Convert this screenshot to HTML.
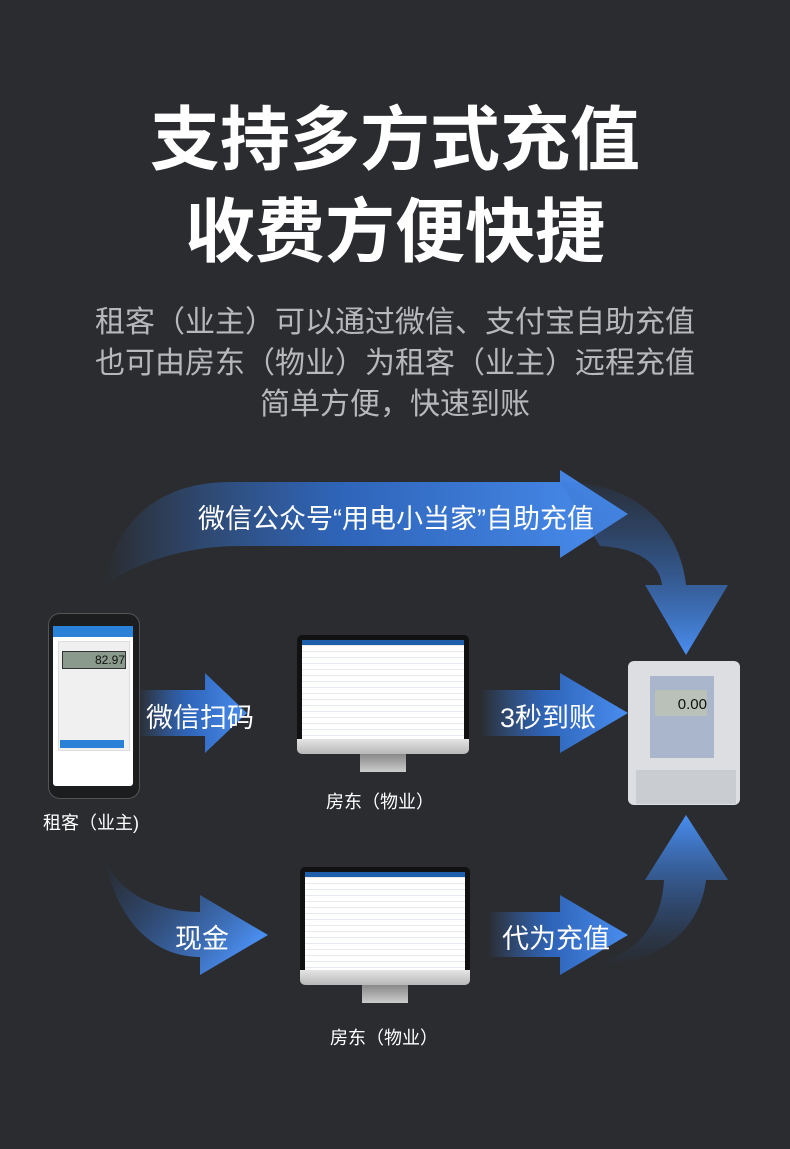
<!DOCTYPE html>
<html><head><meta charset="utf-8"><style>
*{margin:0;padding:0}
body{width:790px;height:1149px;background:#2a2c30;position:relative;overflow:hidden;font-family:"Liberation Sans","Noto Sans CJK SC",sans-serif}
.t{position:absolute;left:0;width:790px;text-align:center;color:#fff;font-weight:bold;font-size:70px;line-height:80px}
.s{position:absolute;left:0;width:790px;text-align:center;color:#b8b8ba;font-size:30px;line-height:41px}
.l{position:absolute;color:#fff;font-size:27px;white-space:nowrap}
.c{position:absolute;color:#fff;font-size:19px;white-space:nowrap}
.scr{background:#fff repeating-linear-gradient(#fff 0 5px,#e6e9ee 5px 6px)}
</style></head><body>
<div class="t" style="top:100px">支持多方式充值</div>
<div class="t" style="top:192px">收费方便快捷</div>
<div class="s" style="top:302px">租客（业主）可以通过微信、支付宝自助充值<br>也可由房东（物业）为租客（业主）远程充值<br>简单方便，快速到账</div>

<svg style="position:absolute;left:0;top:0" width="790" height="1149">
<defs>
<linearGradient id="gh" x1="0" y1="0" x2="1" y2="0"><stop offset="0" stop-color="#3b7fe4" stop-opacity="0"/><stop offset="0.45" stop-color="#2f6bc8" stop-opacity="0.9"/><stop offset="1" stop-color="#4a8ef0"/></linearGradient>
<linearGradient id="gd" x1="0" y1="0" x2="0" y2="1"><stop offset="0" stop-color="#2b5da8" stop-opacity="0.1"/><stop offset="1" stop-color="#4a8ef0"/></linearGradient>
<linearGradient id="gu" x1="0" y1="1" x2="0" y2="0"><stop offset="0" stop-color="#2b5da8" stop-opacity="0"/><stop offset="1" stop-color="#4a8ef0"/></linearGradient>
<linearGradient id="gb" x1="0" y1="0" x2="1" y2="0.6"><stop offset="0" stop-color="#2a5aa8" stop-opacity="0"/><stop offset="1" stop-color="#4a8ef0"/></linearGradient>
</defs>
<path d="M105,585 C115,520 160,482 230,482 L560,482 L560,470 L628,514 L560,558 L560,546 L240,546 C190,546 140,560 105,585 Z" fill="url(#gh)"/>
<path d="M560,482 C640,482 680,530 686,585 L728,585 L686,655 L645,585 L662,585 C660,565 640,548 600,546 Z" fill="url(#gd)"/>
<path d="M138,690 L205,690 L205,673 L247,713 L205,753 L205,736 L138,736 Z" fill="url(#gh)"/>
<path d="M480,690 L560,690 L560,673 L628,713 L560,753 L560,736 L480,736 Z" fill="url(#gh)"/>
<path d="M105,860 C120,895 160,912 200,912 L200,895 L268,935 L200,975 L200,957 C160,957 120,930 105,860 Z" fill="url(#gb)"/>
<path d="M488,912 L560,912 L560,895 L628,935 L560,975 L560,957 L488,957 Z" fill="url(#gh)"/>
<path d="M590,965 C640,955 662,920 664,880 L645,880 L686,815 L728,880 L706,880 C700,930 660,965 590,965 Z" fill="url(#gu)"/>
</svg>

<div class="l" style="left:198px;top:497px">微信公众号“用电小当家”自助充值</div>
<div class="l" style="left:146px;top:696px">微信扫码</div>
<div class="l" style="left:500px;top:696px">3秒到账</div>
<div class="l" style="left:175px;top:917px">现金</div>
<div class="l" style="left:502px;top:917px">代为充值</div>

<!-- phone -->
<div style="position:absolute;left:48px;top:613px;width:90px;height:184px;background:#1b1d1f;border-radius:12px;border:1px solid #555"></div>
<div style="position:absolute;left:53px;top:626px;width:80px;height:160px;background:#fff;border-radius:3px"></div>
<div style="position:absolute;left:53px;top:626px;width:80px;height:11px;background:#2a82d8"></div>
<div style="position:absolute;left:58px;top:641px;width:70px;height:108px;background:#f0f0f0;border:1px solid #ddd"></div>
<div style="position:absolute;left:62px;top:651px;width:62px;height:16px;background:#8a9a8c;border:1px solid #333;color:#111;font-size:12px;text-align:right;line-height:16px">82.97</div>
<div style="position:absolute;left:60px;top:740px;width:64px;height:8px;background:#2a82d8"></div>
<div class="c" style="left:43px;top:809px;font-size:18px">租客（业主)</div>

<!-- monitor 1 -->
<div style="position:absolute;left:297px;top:635px;width:172px;height:106px;background:#111;border-radius:5px 5px 0 0"></div>
<div class="scr" style="position:absolute;left:302px;top:640px;width:162px;height:99px"></div>
<div style="position:absolute;left:302px;top:640px;width:162px;height:5px;background:#1d5fa8"></div>
<div style="position:absolute;left:297px;top:739px;width:172px;height:15px;background:linear-gradient(#e4e4e4,#b8b8b8);border-radius:0 0 5px 5px"></div>
<div style="position:absolute;left:360px;top:754px;width:46px;height:18px;background:linear-gradient(#888,#ccc)"></div>
<div class="c" style="left:326px;top:788px;font-size:18px">房东（物业）</div>

<!-- monitor 2 -->
<div style="position:absolute;left:300px;top:867px;width:170px;height:105px;background:#111;border-radius:5px 5px 0 0"></div>
<div class="scr" style="position:absolute;left:305px;top:872px;width:160px;height:98px"></div>
<div style="position:absolute;left:305px;top:872px;width:160px;height:5px;background:#1d5fa8"></div>
<div style="position:absolute;left:300px;top:970px;width:170px;height:15px;background:linear-gradient(#e4e4e4,#b8b8b8);border-radius:0 0 5px 5px"></div>
<div style="position:absolute;left:362px;top:985px;width:46px;height:18px;background:linear-gradient(#888,#ccc)"></div>
<div class="c" style="left:330px;top:1024px;font-size:18px">房东（物业）</div>

<!-- meter -->
<div style="position:absolute;left:628px;top:661px;width:112px;height:144px;background:#dcdee2;border-radius:6px"></div>
<div style="position:absolute;left:650px;top:676px;width:64px;height:82px;background:#a9b6cc"></div>
<div style="position:absolute;left:655px;top:690px;width:52px;height:26px;background:#b9c1b8;color:#111;font-size:15px;text-align:right;line-height:30px">0.00</div>
<div style="position:absolute;left:636px;top:770px;width:100px;height:34px;background:#c9ccd0"></div>
</body></html>
